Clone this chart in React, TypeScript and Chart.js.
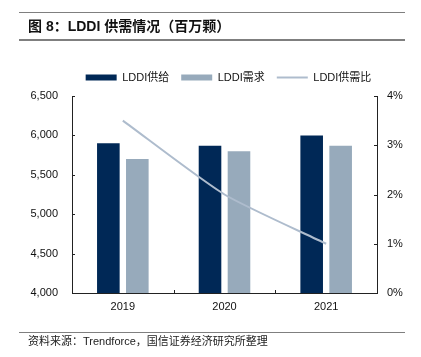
import React, { useEffect, useRef } from "react";
import { Chart, registerables } from "chart.js";

Chart.register(...registerables);

const categories = ["2019", "2020", "2021"];
const supply = [5900, 5870, 6000];
const demand = [5700, 5800, 5870];
const ratio = [3.5, 2.0, 1.0];
const seriesNames = ["LDDI供给", "LDDI需求", "LDDI供需比"];
const leftRange = { min: 4000, max: 6500, step: 500 };
const rightRange = { min: 0, max: 4, step: 1 };

const NAVY = "#002856";
const GREY = "#97AABB";
const LINE = "#AEBCCD";
const AXIS = "#222222";
const FONT = "'Liberation Sans', Arial, 'Noto Sans CJK SC', sans-serif";

const tickMarks = {
  id: "tickMarks",
  beforeUpdate(chart: any) {
    const lg = chart.legend;
    if (lg && !lg.__patched) {
      const f = lg.fit.bind(lg);
      lg.fit = () => {
        f();
        lg.height += 3;
      };
      lg.__patched = true;
    }
  },
  afterLayout(chart: any) {
    if (chart.legend) chart.legend.left += 36;
  },
  afterDraw(chart: any) {
    const ctx = chart.ctx;
    const { x, y, y1 } = chart.scales;
    ctx.save();
    ctx.strokeStyle = AXIS;
    ctx.lineWidth = 1;
    ctx.beginPath();
    y.ticks.forEach((_t: any, i: number) => {
      const py = Math.round(y.getPixelForTick(i)) + 0.5;
      ctx.moveTo(y.right, py);
      ctx.lineTo(y.right + 3, py);
    });
    y1.ticks.forEach((_t: any, i: number) => {
      const py = Math.round(y1.getPixelForTick(i)) + 0.5;
      ctx.moveTo(y1.left - 3, py);
      ctx.lineTo(y1.left, py);
    });
    for (let i = 0; i < categories.length - 1; i++) {
      const px = Math.round((x.getPixelForValue(i) + x.getPixelForValue(i + 1)) / 2) + 0.5;
      ctx.moveTo(px, x.top);
      ctx.lineTo(px, x.top - 3);
    }
    ctx.stroke();
    ctx.restore();
  },
};

export default function App() {
  const ref = useRef<HTMLCanvasElement | null>(null);

  useEffect(() => {
    if (!ref.current) return;
    const chart = new Chart(ref.current, {
      type: "bar",
      data: {
        labels: categories,
        datasets: [
          {
            type: "bar",
            label: seriesNames[0],
            data: supply,
            backgroundColor: NAVY,
            yAxisID: "y",
            order: 1,
            categoryPercentage: 0.57,
            barPercentage: 0.78,
          },
          {
            type: "bar",
            label: seriesNames[1],
            data: demand,
            backgroundColor: GREY,
            yAxisID: "y",
            order: 1,
            categoryPercentage: 0.57,
            barPercentage: 0.78,
          },
          {
            type: "line",
            label: seriesNames[2],
            data: ratio,
            borderColor: LINE,
            backgroundColor: LINE,
            borderWidth: 2,
            pointRadius: 0,
            tension: 0.2,
            yAxisID: "y1",
            order: 0,
          } as any,
        ],
      },
      options: {
        animation: false,
        responsive: false,
        layout: { padding: { top: 60, bottom: 44, left: 0, right: 0 } },
        plugins: {
          tooltip: { enabled: false },
          legend: {
            position: "top",
            labels: {
              font: { family: FONT, size: 11 },
              color: "#111",
              usePointStyle: true,
              pointStyleWidth: 31,
              boxWidth: 31,
              boxHeight: 6,
              padding: 12,
              sort: (a: any, b: any) => a.datasetIndex - b.datasetIndex,
              generateLabels: (c: any) => {
                const items = (Chart.defaults.plugins.legend.labels as any).generateLabels(c);
                return items.map((it: any) =>
                  it.datasetIndex === 2
                    ? { ...it, pointStyle: "line", lineWidth: 2, strokeStyle: LINE }
                    : { ...it, pointStyle: "rect", lineWidth: 0 }
                );
              },
            },
          },
        },
        scales: {
          x: {
            offset: true,
            grid: { display: false, drawTicks: false },
            border: { display: true, color: AXIS, width: 1 },
            ticks: { padding: 7, color: "#111", font: { family: FONT, size: 11 } },
            afterFit: (s: any) => {
              s.height = 20;
            },
          },
          y: {
            position: "left",
            min: leftRange.min,
            max: leftRange.max,
            grid: { display: false, drawTicks: false },
            border: { display: true, color: AXIS, width: 1 },
            ticks: {
              stepSize: leftRange.step,
              padding: 14,
              color: "#111",
              font: { family: FONT, size: 11 },
              callback: (v: any) => Number(v).toLocaleString("en-US"),
            },
            afterFit: (s: any) => {
              s.width = 72;
            },
          },
          y1: {
            position: "right",
            min: rightRange.min,
            max: rightRange.max,
            grid: { display: false, drawTicks: false },
            border: { display: true, color: AXIS, width: 1 },
            ticks: {
              stepSize: rightRange.step,
              padding: 10,
              color: "#111",
              font: { family: FONT, size: 11 },
              callback: (v: any) => `${v}%`,
            },
            afterFit: (s: any) => {
              s.width = 44;
            },
          },
        },
      },
      plugins: [tickMarks],
    });
    return () => chart.destroy();
  }, []);

  return (
    <div style={{ position: "fixed", left: 0, top: 0, width: 421, height: 357, background: "#fff" }}>
      <canvas ref={ref} width={421} height={357} style={{ position: "absolute", left: 0, top: 0, width: 421, height: 357 }} />
      <div style={{ position: "absolute", left: 19, top: 12, width: 386, height: 1, background: "#7f7f7f" }} />
      <div
        style={{
          position: "absolute",
          left: 28,
          top: 17,
          fontFamily: "'Liberation Sans', Arial, 'Noto Sans CJK SC', sans-serif",
          fontWeight: "bold",
          fontSize: 14,
          lineHeight: "18px",
          color: "#111",
          whiteSpace: "nowrap",
        }}
      >
        图 8：LDDI 供需情况（百万颗）
      </div>
      <div style={{ position: "absolute", left: 19, top: 39, width: 386, height: 2, background: "#7f7f7f" }} />
      <div style={{ position: "absolute", left: 19, top: 332, width: 386, height: 1, background: "#7f7f7f" }} />
      <div
        style={{
          position: "absolute",
          left: 28,
          top: 334,
          fontFamily: "'Liberation Sans', Arial, 'Noto Sans CJK SC', sans-serif",
          fontSize: 11,
          lineHeight: "14px",
          color: "#222",
          whiteSpace: "nowrap",
        }}
      >
        资料来源：Trendforce，国信证券经济研究所整理
      </div>
    </div>
  );
}
